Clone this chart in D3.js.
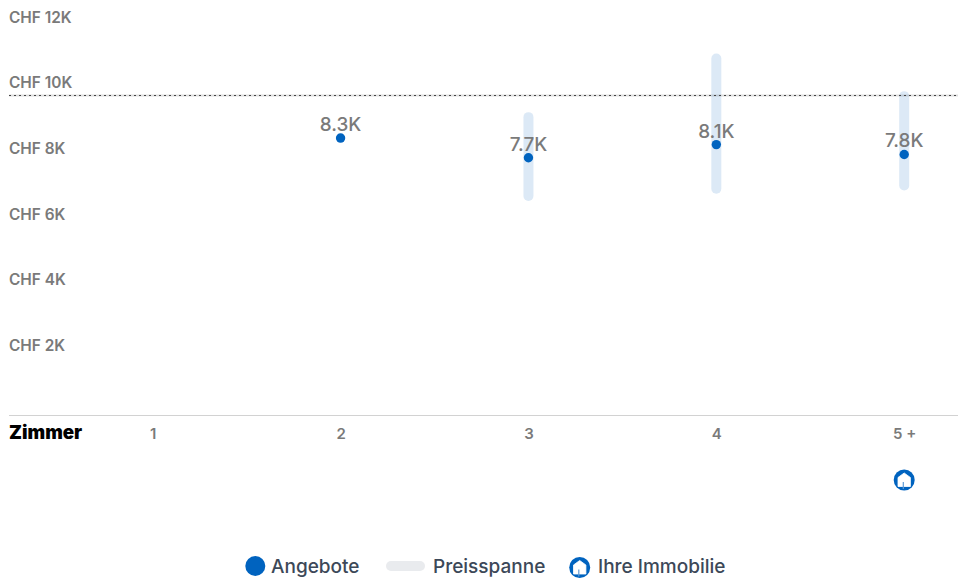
<!DOCTYPE html>
<html lang="de">
<head>
<meta charset="utf-8">
<script src="https://cdn.jsdelivr.net/npm/d3@7/dist/d3.min.js"></script>
<style>
  html, body { margin: 0; padding: 0; background: #fff; }
  svg { display: block; font-family: Inter, "Noto Sans", sans-serif; }
</style>
</head>
<body>
<svg id="chart" width="958" height="578"></svg>
<script>
// Rent per room count, in thousands of CHF
const rooms = ["1", "2", "3", "4", "5 +"];
const offers = [null, 8.3, 7.7, 8.1, 7.8];
const rangeLow = [null, null, 6.38, 6.6, 6.7];
const rangeHigh = [null, null, 9.09, 10.88, 9.73];
const yTicks = [2, 4, 6, 8, 10, 12];
const referencePrice = 9.6;
const propertyRooms = "5 +";
const legendLabels = ["Angebote", "Preisspanne", "Ihre Immobilie"];

const BLUE = "#0063bf";
const GREY = "#7a7a7a";
const INK = "#3c4858";
const left = 9, right = 958, baseline = 415.5;

const svg = d3.select("#chart");
const x = d3.scalePoint().domain(rooms).range([152.7, 904.2]);
const y = d3.scaleLinear().domain([0, 12]).range([410.3, 16.7]);

// Value axis: labels only, left aligned to the plot edge
const yAxis = svg.append("g")
  .attr("transform", `translate(${left},0.7)`)
  .call(d3.axisLeft(y).tickValues(yTicks).tickSize(0).tickFormat(d => `CHF ${d}K`));
yAxis.select(".domain").remove();
yAxis.selectAll("text")
  .attr("x", 0).attr("text-anchor", "start")
  .attr("fill", GREY).style("font-size", "15.4px").style("font-weight", 600).style("font-family", "Inter");

// Room axis
const xAxis = svg.append("g")
  .attr("transform", `translate(0,${baseline})`)
  .call(d3.axisBottom(x).tickSize(0).tickPadding(13));
xAxis.select(".domain").remove();
xAxis.selectAll("text")
  .attr("fill", GREY).style("font-size", "15px").style("font-weight", 600).style("font-family", "Inter");

svg.append("line")
  .attr("x1", left).attr("x2", right).attr("y1", baseline).attr("y2", baseline)
  .attr("stroke", "#d2d2d2").attr("stroke-width", 1);

svg.append("text")
  .attr("x", left).attr("y", 439)
  .attr("fill", "#000").style("font-size", "18.7px").style("font-weight", 900)
  .text("Zimmer");

// Price ranges
const rows = rooms.map((room, i) => ({ room, offer: offers[i], low: rangeLow[i], high: rangeHigh[i] }));
svg.append("g").selectAll("rect")
  .data(rows.filter(d => d.low !== null))
  .join("rect")
  .attr("x", d => x(d.room) - 5)
  .attr("width", 10)
  .attr("y", d => y(d.high))
  .attr("height", d => y(d.low) - y(d.high))
  .attr("rx", 5)
  .attr("fill", "#dce9f6");

// Reference price: pale band with a fine dashed line on top
const refY = Math.round(y(referencePrice)) + 0.5;
svg.append("line")
  .attr("x1", left).attr("x2", right).attr("y1", refY).attr("y2", refY)
  .attr("stroke", "#000").attr("stroke-opacity", 0.13).attr("stroke-width", 2);
svg.append("line")
  .attr("x1", left).attr("x2", right).attr("y1", refY).attr("y2", refY)
  .attr("stroke", "#444").attr("stroke-width", 1).attr("stroke-dasharray", "2 3");

// Offer points with their value labels
const offerRows = rows.filter(d => d.offer !== null);
svg.append("g").selectAll("circle")
  .data(offerRows)
  .join("circle")
  .attr("cx", d => x(d.room))
  .attr("cy", d => y(d.offer))
  .attr("r", 4.7)
  .attr("fill", BLUE);
svg.append("g").selectAll("text")
  .data(offerRows)
  .join("text")
  .attr("x", d => x(d.room))
  .attr("y", d => y(d.offer) - 7)
  .attr("text-anchor", "middle")
  .attr("fill", GREY).style("font-size", "18.9px").style("font-weight", 500)
  .text(d => `${d.offer}K`);

// Round blue badge with a white house
function houseIcon(g, cx, cy) {
  const icon = g.append("g").attr("transform", `translate(${cx},${cy})`);
  icon.append("circle").attr("r", 10.5).attr("fill", BLUE);
  icon.append("path")
    .attr("d", "M0,-7 L6.2,-2.5 L6.2,6.5 L-6.2,6.5 L-6.2,-2.5 Z")
    .attr("fill", "#fff").attr("stroke", "#fff").attr("stroke-width", 0.8).attr("stroke-linejoin", "round");
  icon.append("rect").attr("x", -1.5).attr("y", 2).attr("width", 1.2).attr("height", 7).attr("fill", "#5f9bd6");
}
houseIcon(svg, x(propertyRooms), 480);

// Legend
const legend = svg.append("g");
legend.append("circle").attr("cx", 255.3).attr("cy", 566).attr("r", 10).attr("fill", BLUE);
legend.append("rect").attr("x", 386).attr("y", 561).attr("width", 39).attr("height", 10).attr("rx", 5).attr("fill", "#e9ebee");
houseIcon(legend, 579.7, 567.5);
legend.selectAll("text")
  .data(legendLabels)
  .join("text")
  .attr("x", (d, i) => [271, 433, 598][i])
  .attr("y", 572.5)
  .attr("fill", INK).style("font-size", "19px").style("font-weight", 500)
  .text(d => d);
</script>
</body>
</html>
